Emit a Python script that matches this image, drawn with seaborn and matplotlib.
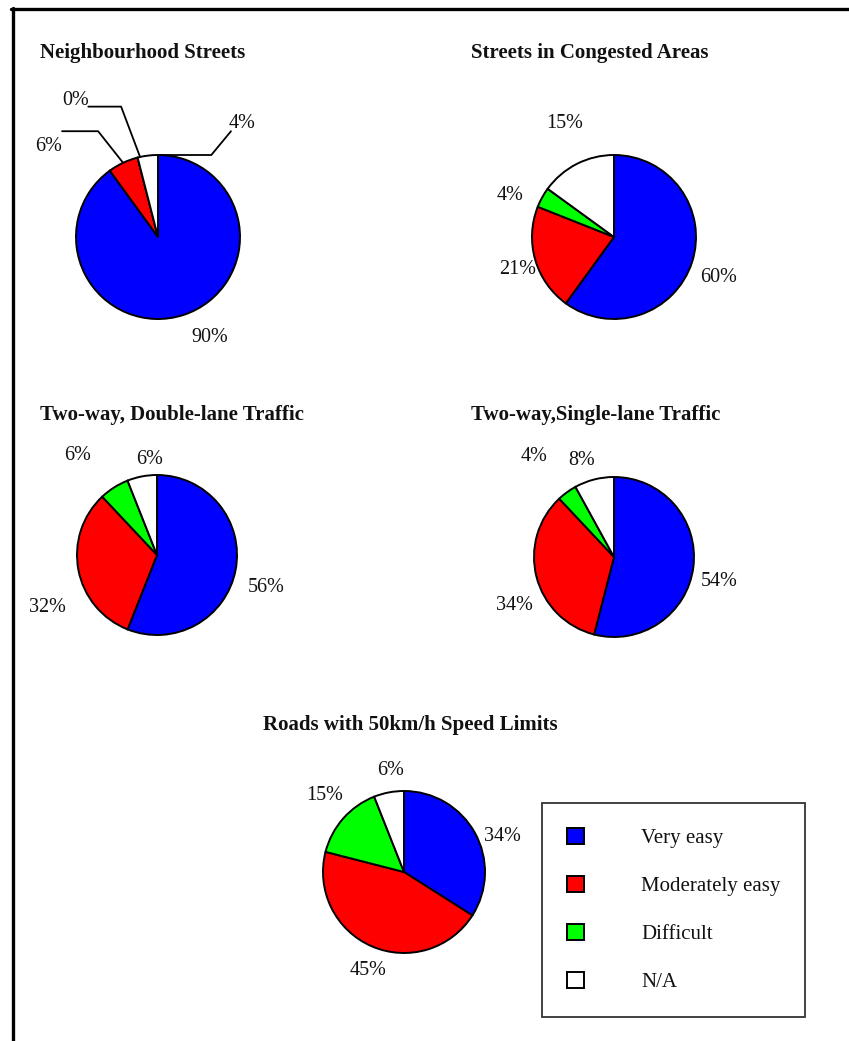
import matplotlib
matplotlib.use("Agg")
import matplotlib.pyplot as plt
from matplotlib.lines import Line2D
from matplotlib.patches import Patch
import seaborn as sns

# Survey categories and their colours
categories = ["Very easy", "Moderately easy", "Difficult", "N/A"]
colors = ["#0000FF", "#FF0000", "#00FF00", "#FFFFFF"]

# Percentage of respondents per road type
titles = [
    "Neighbourhood Streets",
    "Streets in Congested Areas",
    "Two-way, Double-lane Traffic",
    "Two-way,Single-lane Traffic",
    "Roads with 50km/h Speed Limits",
]
neighbourhood = [90, 6, 0, 4]
congested = [60, 21, 4, 15]
double_lane = [56, 32, 6, 6]
single_lane = [54, 34, 4, 8]
speed_50 = [34, 45, 15, 6]
series = [neighbourhood, congested, double_lane, single_lane, speed_50]

sns.set_theme(style="white")
plt.rcParams["font.family"] = ["Liberation Serif", "DejaVu Serif"]

W, H = 849, 1041
fig = plt.figure(figsize=(W / 100, H / 100), dpi=100)
fig.patch.set_facecolor("white")

# pie centre (px), radius (px), title anchor (px), title alignment
layout = [
    dict(c=(158, 237), r=82, t=(40, 52), ha="left"),
    dict(c=(614, 237), r=82, t=(471, 52), ha="left"),
    dict(c=(157, 555), r=80, t=(40, 414), ha="left"),
    dict(c=(614, 557), r=80, t=(471, 414), ha="left"),
    dict(c=(404, 872), r=81, t=(410, 724), ha="center"),
]

# label centres in units of the pie radius, relative to the pie centre
label_xy = [
    [(0.63, -1.23), (-1.34, 1.10), (-1.01, 1.67), (1.02, 1.39)],
    [(1.28, -0.49), (-1.17, -0.40), (-1.27, 0.50), (-0.60, 1.38)],
    [(1.36, -0.40), (-1.375, -0.65), (-0.99, 1.24), (-0.09, 1.19)],
    [(1.31, -0.30), (-1.24, -0.60), (-1.00, 1.26), (-0.41, 1.21)],
    [(1.21, 0.44), (-0.44, -1.21), (-0.98, 0.95), (-0.17, 1.25)],
]

# leader lines for the crowded first pie (radius units)
leaders = [
    [(-1.17, 1.29), (-0.73, 1.29), (-0.43, 0.91)],
    [(-0.85, 1.59), (-0.45, 1.59), (-0.22, 0.98)],
    [(0.89, 1.29), (0.65, 1.00), (0.0, 1.00)],
]

EXT = 2.2
for i, (vals, lay) in enumerate(zip(series, layout)):
    cx, cy = lay["c"]
    r = lay["r"]
    half = EXT * r
    ax = fig.add_axes([(cx - half) / W, 1 - (cy + half) / H, 2 * half / W, 2 * half / H])
    ax.pie(vals, colors=colors, startangle=90, counterclock=False, radius=1,
           wedgeprops=dict(edgecolor="black", linewidth=1.4))
    ax.set_xlim(-EXT, EXT)
    ax.set_ylim(-EXT, EXT)
    ax.set_aspect("equal")
    ax.axis("off")
    for v, (lx, ly) in zip(vals, label_xy[i]):
        ax.text(lx, ly, f"{v}%", ha="center", va="center", fontsize=14.5,
                color="#111111", clip_on=False)
    if i == 0:
        for pts in leaders:
            xs, ys = zip(*pts)
            ax.plot(xs, ys, color="black", lw=1.3, clip_on=False)
    tx, ty = lay["t"]
    fig.text(tx / W, 1 - (ty + 1) / H, titles[i], ha=lay["ha"], va="center",
             fontsize=15, fontweight="bold", color="#111111")

# legend
handles = [Patch(facecolor=c, edgecolor="black", linewidth=1.4) for c in colors]
leg = fig.legend(handles, categories, loc="upper left",
                 bbox_to_anchor=(542 / W, 1 - 803 / H), borderaxespad=0,
                 fontsize=15, frameon=True, fancybox=False,
                 handlelength=0.82, handleheight=0.82, handletextpad=2.75,
                 labelspacing=1.33, borderpad=1.18)
leg.get_frame().set_edgecolor("black")
leg.get_frame().set_linewidth(1.3)
for t in leg.get_texts():
    t.set_color("#111111")

# page frame: top rule and left rule
fig.add_artist(Line2D([11 / W, 1.0], [1 - 9 / H, 1 - 9 / H], color="black", lw=2.4))
fig.add_artist(Line2D([12.5 / W, 12.5 / W], [1 - 8 / H, 0.0], color="black", lw=2.4))

fig.savefig("out.png", dpi=100, facecolor="white")
